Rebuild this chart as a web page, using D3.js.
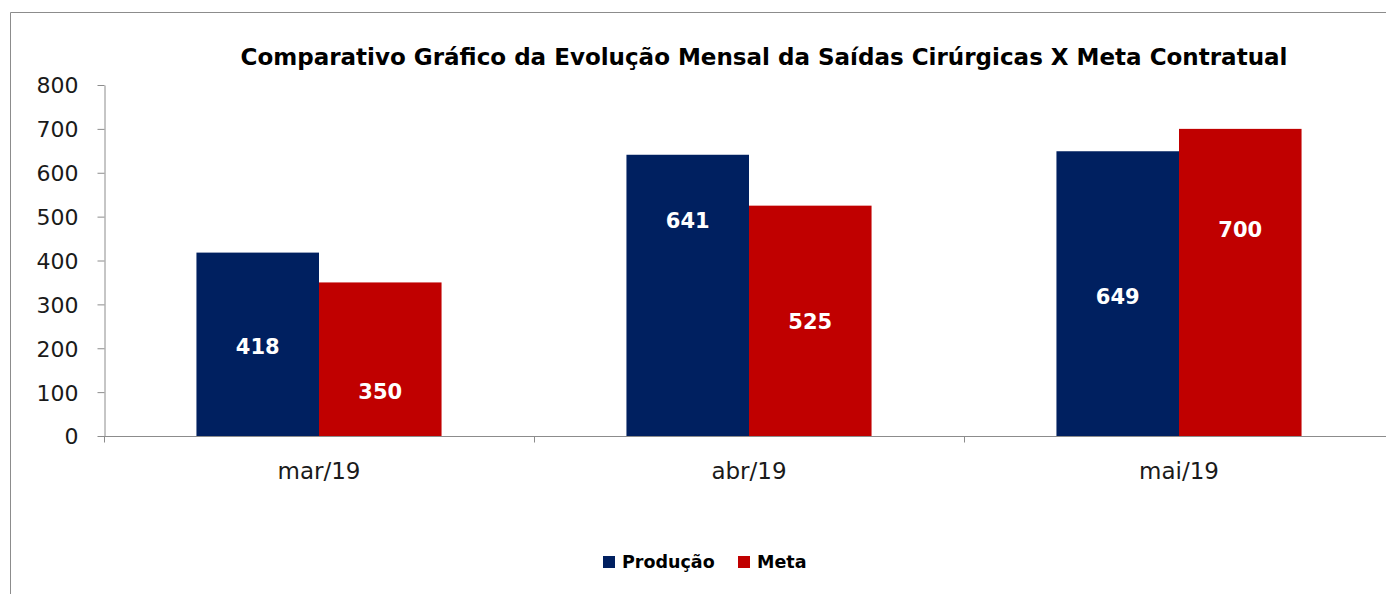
<!DOCTYPE html>
<html>
<head>
<meta charset="utf-8">
<script src="https://cdn.jsdelivr.net/npm/d3@7"></script>
<style>
  body { margin: 0; background: #fff; }
  svg { font-family: "DejaVu Sans", sans-serif; }
  .axis path, .axis line { stroke: #8c8c8c; }
  .axis text { font-size: 22px; fill: #1a1a1a; font-family: "DejaVu Sans", sans-serif; }
</style>
</head>
<body>
<svg width="1386" height="594"></svg>
<script>
var months = ['mar/19', 'abr/19', 'mai/19'];
var producao = [418, 641, 649];
var meta = [350, 525, 700];
var yTicks = [0, 100, 200, 300, 400, 500, 600, 700, 800];
var seriesNames = ['Produção', 'Meta'];
var seriesColors = ['#002060', '#c00000'];
// where Excel put each label, in data units
var producaoLabelAt = [205, 492, 319];
var metaLabelAt = [102, 262, 471];

var svg = d3.select('svg');

// frame (only top and left edges show in the crop)
svg.append('path')
  .attr('d', 'M10.5,594 V12.5 H1386')
  .attr('fill', 'none')
  .attr('stroke', '#8c8c8c');

var plotLeft = 104, plotRight = 1394, plotTop = 85, plotBottom = 436;

var x0 = d3.scaleBand()
  .domain(months)
  .range([plotLeft, plotRight])
  .paddingInner(0.43)
  .paddingOuter(0.215);

var x1 = d3.scaleBand()
  .domain(seriesNames)
  .range([0, x0.bandwidth()]);

var y = d3.scaleLinear()
  .domain([0, 800])
  .range([plotBottom, plotTop]);

var rows = months.map((m, i) => ({
  month: m,
  values: [
    {name: seriesNames[0], v: producao[i], at: producaoLabelAt[i]},
    {name: seriesNames[1], v: meta[i], at: metaLabelAt[i]}
  ]
}));

// y axis
var yAxis = svg.append('g')
  .attr('class', 'axis')
  .attr('transform', `translate(${plotLeft + 0.5},0)`)
  .call(d3.axisLeft(y).tickValues(yTicks).tickSize(7).tickPadding(19).tickSizeOuter(0));
yAxis.selectAll('text').attr('dy', '0.36em');

var groups = svg.selectAll('.grp')
  .data(rows)
  .enter()
  .append('g')
  .attr('class', 'grp')
  .attr('transform', (d) => `translate(${x0(d.month)},0)`);

groups.selectAll('rect')
  .data((d) => d.values)
  .enter()
  .append('rect')
  .attr('x', (d) => x1(d.name))
  .attr('y', (d) => y(d.v))
  .attr('width', x1.bandwidth())
  .attr('height', (d) => y(0) - y(d.v))
  .attr('fill', (d, i) => seriesColors[i]);

groups.selectAll('text.val')
  .data((d) => d.values)
  .enter()
  .append('text')
  .attr('class', 'val')
  .attr('x', (d) => x1(d.name) + x1.bandwidth() / 2)
  .attr('y', (d) => y(d.at))
  .attr('dy', '0.36em')
  .attr('text-anchor', 'middle')
  .attr('fill', '#fff')
  .style('font-size', '21px')
  .style('font-weight', 'bold')
  .text((d) => d.v);

// x axis: ticks sit on category boundaries
var step = x0.step();
var xAxis = svg.append('g')
  .attr('class', 'axis')
  .attr('transform', `translate(0,${plotBottom + 0.5})`);
xAxis.append('line')
  .attr('x1', plotLeft).attr('x2', 1386);
xAxis.selectAll('.tk')
  .data(d3.range(months.length))
  .enter()
  .append('line')
  .attr('class', 'tk')
  .attr('x1', (i) => plotLeft + i * step + 0.5)
  .attr('x2', (i) => plotLeft + i * step + 0.5)
  .attr('y1', 0).attr('y2', 6);
xAxis.selectAll('text')
  .data(months)
  .enter()
  .append('text')
  .attr('x', (m) => x0(m) + x0.bandwidth() / 2)
  .attr('y', 42)
  .attr('text-anchor', 'middle')
  .style('font-size', '23px')
  .text((m) => m);

// title, sized to span the same width as the original
var title = svg.append('text')
  .attr('x', 764)
  .attr('y', 65)
  .attr('text-anchor', 'middle')
  .style('font-size', '20px')
  .style('font-weight', 'bold')
  .attr('fill', '#000')
  .text('Comparativo Gráfico da Evolução Mensal da Saídas Cirúrgicas X Meta Contratual');
var tw = title.node().getComputedTextLength();
title.style('font-size', (20 * 1048 / tw) + 'px');

// legend
var legend = svg.append('g').attr('transform', 'translate(603,556)');
var legX = [0, 135];
seriesNames.forEach((n, i) => {
  var g = legend.append('g').attr('transform', `translate(${legX[i]},0)`);
  g.append('rect').attr('width', 12).attr('height', 12).attr('fill', seriesColors[i]);
  g.append('text')
    .attr('x', 19).attr('y', 6).attr('dy', '0.36em')
    .style('font-size', '17.5px').style('font-weight', 'bold')
    .text(n);
});
</script>
</body>
</html>
